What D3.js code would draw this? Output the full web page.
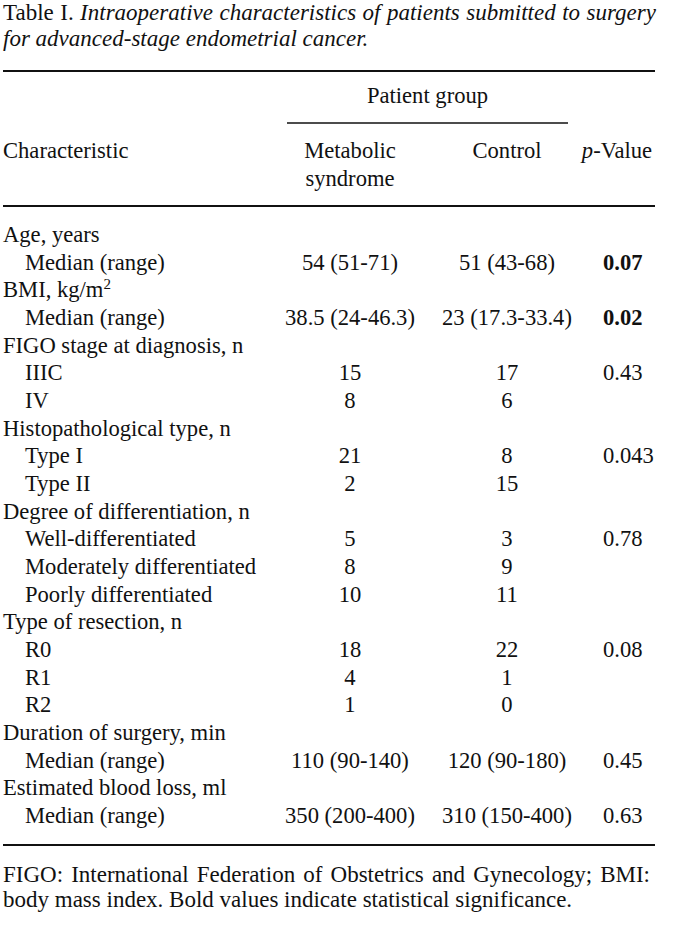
<!DOCTYPE html>
<html>
<head>
<meta charset="utf-8">
<script src="https://cdn.jsdelivr.net/npm/d3@7"></script>
<style>
  html, body { margin: 0; padding: 0; background: #fff; }
  svg { display: block; }
  text { font-family: "Liberation Serif", "Times New Roman", serif; fill: #111; }
</style>
</head>
<body>
<svg id="chart" width="673" height="935"></svg>
<script>
// ---- Data ----
const titleLead = "Table I.";
const titleLines = ["Intraoperative characteristics of patients submitted to surgery", "for advanced-stage endometrial cancer."];
const groupHeader = "Patient group";
const columnHeaders = ["Characteristic", ["Metabolic", "syndrome"], ["Control"], "p-Value"];
const rowLabels = [
  "Age, years", "Median (range)",
  "BMI, kg/m", "Median (range)",
  "FIGO stage at diagnosis, n", "IIIC", "IV",
  "Histopathological type, n", "Type I", "Type II",
  "Degree of differentiation, n", "Well-differentiated", "Moderately differentiated", "Poorly differentiated",
  "Type of resection, n", "R0", "R1", "R2",
  "Duration of surgery, min", "Median (range)",
  "Estimated blood loss, ml", "Median (range)"
];
const rowLevels = [0,1, 0,1, 0,1,1, 0,1,1, 0,1,1,1, 0,1,1,1, 0,1, 0,1];
const metabolicValues = ["", "54 (51-71)", "", "38.5 (24-46.3)", "", "15", "8", "", "21", "2", "", "5", "8", "10", "", "18", "4", "1", "", "110 (90-140)", "", "350 (200-400)"];
const controlValues = ["", "51 (43-68)", "", "23 (17.3-33.4)", "", "17", "6", "", "8", "15", "", "3", "9", "11", "", "22", "1", "0", "", "120 (90-180)", "", "310 (150-400)"];
const pValues = ["", "0.07", "", "0.02", "", "0.43", "", "", "0.043", "", "", "0.78", "", "", "", "0.08", "", "", "", "0.45", "", "0.63"];
const significantP = ["0.07", "0.02"];
const footnoteLines = [
  "FIGO: International Federation of Obstetrics and Gynecology; BMI:",
  "body mass index. Bold values indicate statistical significance."
];

// ---- Layout ----
const svg = d3.select("#chart");
const FS = 22.6;
const FS_NOTE = 23;
const left = 3, right = 655;

// row scale
const y = d3.scaleLinear().domain([0, rowLabels.length - 1]).range([242, 823]);
// column scale
const colX = d3.scaleOrdinal().domain(["label", "metabolic", "control", "p"]).range([3, 350, 507, 603]);
const indentX = d3.scaleOrdinal().domain([0, 1]).range([0, 22]);

// justify a text element to a target width using word-spacing
function justify(sel, width) {
  const node = sel.node();
  const txt = node.textContent;
  const spaces = (txt.match(/ /g) || []).length;
  const w = node.getComputedTextLength();
  if (spaces > 0 && w < width) sel.attr("word-spacing", (width - w) / spaces);
}

// Title
const t1 = svg.append("text").attr("x", left).attr("y", 20).attr("font-size", FS_NOTE);
t1.append("tspan").text(titleLead + " ");
t1.append("tspan").attr("font-style", "italic").text(titleLines[0]);
justify(t1, right - left + 1);
svg.append("text").attr("x", left).attr("y", 46).attr("font-size", FS_NOTE)
  .attr("font-style", "italic").text(titleLines[1]);

// Rules
function rule(yv, x1, x2, w) {
  svg.append("line").attr("x1", x1).attr("x2", x2).attr("y1", yv).attr("y2", yv)
    .attr("stroke", "#111").attr("stroke-width", w);
}
rule(71, left, right, 1.8);
rule(123, 287, 568, 1.4);
rule(206, left, right, 1.8);
rule(845, left, right, 1.8);

// Header
svg.append("text").attr("x", (287 + 568) / 2).attr("y", 103).attr("font-size", FS)
  .attr("text-anchor", "middle").text(groupHeader);
svg.append("text").attr("x", colX("label")).attr("y", 158).attr("font-size", FS).text(columnHeaders[0]);
columnHeaders[1].forEach((s, i) => {
  svg.append("text").attr("x", colX("metabolic")).attr("y", 158 + i * 28).attr("font-size", FS)
    .attr("text-anchor", "middle").text(s);
});
columnHeaders[2].forEach((s, i) => {
  svg.append("text").attr("x", colX("control")).attr("y", 158 + i * 28).attr("font-size", FS)
    .attr("text-anchor", "middle").text(s);
});
const ph = svg.append("text").attr("x", 617).attr("y", 158).attr("font-size", FS).attr("text-anchor", "middle");
ph.append("tspan").attr("font-style", "italic").text(columnHeaders[3].slice(0, 1));
ph.append("tspan").text(columnHeaders[3].slice(1));

// Body rows
const rows = svg.append("g").selectAll("g.row")
  .data(rowLabels.map((label, i) => ({
    label, level: rowLevels[i], m: metabolicValues[i], c: controlValues[i], p: pValues[i], i
  })))
  .join("g").attr("class", "row")
  .attr("transform", d => `translate(0,${y(d.i)})`);

rows.each(function(d) {
  const g = d3.select(this);
  const lt = g.append("text").attr("x", colX("label") + indentX(d.level)).attr("y", 0).attr("font-size", FS);
  lt.append("tspan").text(d.label);
  if (d.label === "BMI, kg/m") {
    lt.append("tspan").attr("font-size", 15).attr("dy", -8).text("2");
  }
  if (d.m) g.append("text").attr("x", colX("metabolic")).attr("font-size", FS).attr("text-anchor", "middle").text(d.m);
  if (d.c) g.append("text").attr("x", colX("control")).attr("font-size", FS).attr("text-anchor", "middle").text(d.c);
  if (d.p) g.append("text").attr("x", colX("p")).attr("font-size", FS)
    .attr("font-weight", significantP.includes(d.p) ? "bold" : "normal").text(d.p);
});

// Footnote
footnoteLines.forEach((s, i) => {
  const ft = svg.append("text").attr("x", left).attr("y", 882 + i * 25).attr("font-size", FS_NOTE).text(s);
  if (i === 0) justify(ft, 650 - left);
});
</script>
</body>
</html>
